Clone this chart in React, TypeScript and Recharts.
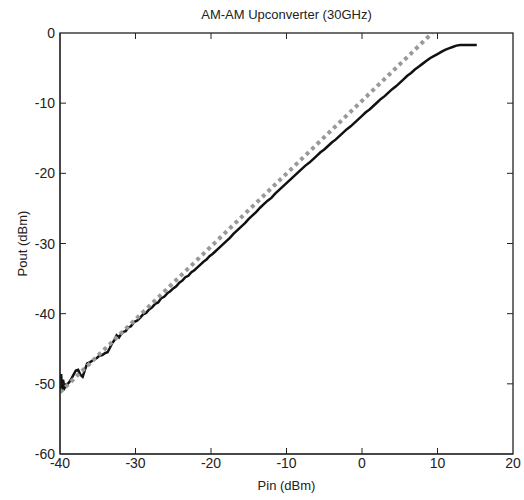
import { LineChart, Line, XAxis, YAxis, Label } from "recharts";

const FONT = '"Liberation Sans", Arial, Helvetica, sans-serif';
const INK = "#222";

const xTicks = [-40, -30, -20, -10, 0, 10, 20];
const yTicks = [-60, -50, -40, -30, -20, -10, 0];

// measured output power (solid black trace)
const pinMeasured = [
  -40.0, -39.95, -39.85, -39.75, -39.6, -39.4, -39.1, -38.8, -38.5, -38.2,
  -37.9, -37.6, -37.3, -37.0, -36.7, -36.4, -36.0, -35.6, -35.2, -34.8,
  -34.4, -34.0, -33.7, -33.4, -33.1, -32.8, -32.5, -32.2, -31.9, -31.6,
  -31.3, -31.0, -30.6, -30.2, -29.8, -29.4, -29.0, -28.6, -28.2, -27.8,
  -27.4, -27.0, -26.6, -26.2, -25.8, -25.4, -25.0, -24.6, -24.2, -23.8,
  -23.4, -23.0, -22.6, -22.2, -21.8, -21.4, -21.0, -20.6, -20.2, -19.8,
  -19.4, -19.0, -18.5, -18.0, -17.5, -17.0, -16.6, -16.0, -15.5, -15.0,
  -14.5, -14.0, -13.5, -13.0, -12.5, -12.0, -11.5, -11.0, -10.5, -10.0,
  -9.5, -9.0, -8.5, -8.0, -7.5, -7.0, -6.5, -6.0, -5.5, -5.0,
  -4.5, -4.0, -3.5, -3.0, -2.5, -2.0, -1.5, -1.0, -0.5, 0.0,
  0.5, 1.0, 1.5, 2.0, 2.5, 3.0, 3.5, 4.0, 4.5, 5.0,
  5.5, 6.0, 6.5, 7.0, 7.5, 8.0, 8.5, 9.0, 9.5, 10.0,
  10.5, 11.0, 11.5, 12.0, 12.5, 13.0, 14.0, 15.2,
];
const poutMeasured = [
  -49.2, -51.2, -48.6, -50.9, -49.4, -50.6, -50.1, -49.8, -49.3, -48.7,
  -48.1, -48.0, -48.7, -49.0, -48.0, -47.1, -46.9, -46.6, -46.4, -46.0,
  -45.9, -45.6, -45.5, -44.9, -44.2, -43.8, -43.1, -43.4, -42.9, -42.6,
  -42.5, -42.0, -41.8, -41.2, -41.0, -40.6, -40.1, -39.9, -39.4, -39.1,
  -38.6, -38.4, -37.8, -37.6, -37.1, -36.8, -36.4, -36.1, -35.6, -35.3,
  -34.8, -34.6, -34.1, -33.8, -33.4, -33.0, -32.6, -32.3, -31.8, -31.5,
  -31.1, -30.7, -30.2, -29.7, -29.2, -28.6, -28.2, -27.6, -27.1, -26.5,
  -26.0, -25.5, -24.9, -24.4, -23.9, -23.5, -22.9, -22.4, -21.9, -21.4,
  -20.9, -20.4, -19.9, -19.4, -18.9, -18.5, -18.0, -17.5, -17.0, -16.6,
  -16.1, -15.6, -15.2, -14.7, -14.2, -13.7, -13.3, -12.8, -12.3, -11.8,
  -11.3, -10.9, -10.4, -9.9, -9.4, -9.0, -8.5, -8.0, -7.6, -7.1,
  -6.6, -6.1, -5.7, -5.2, -4.8, -4.4, -4.0, -3.6, -3.3, -3.0,
  -2.7, -2.4, -2.2, -2.0, -1.8, -1.7, -1.7, -1.7,
];

// linear (ideal) gain reference (grey dotted)
const pinLinear = [-40, 9.3];
const poutLinear = [-51.2, 0];

const measured = pinMeasured.map((pin, i) => ({ pin, pout: poutMeasured[i] }));
const linear = pinLinear.map((pin, i) => ({ pin, pout: poutLinear[i] }));

const X_MIN = -40, X_MAX = 20, Y_MIN = -60, Y_MAX = 0;

// chart box; plot area follows from margins + axis sizes
const W = 524, H = 500;
const M = { top: 33, right: 11, bottom: 0, left: 0 };
const Y_AXIS_W = 60, X_AXIS_H = 46;
const PLOT = {
  left: M.left + Y_AXIS_W,
  top: M.top,
  right: W - M.right,
  bottom: H - M.bottom - X_AXIS_H,
};
const TICK = 6;

const BottomTick = ({ x, y, payload }: any) => (
  <text x={x} y={y + 14} textAnchor="middle" fontSize={14} fill={INK} fontFamily={FONT}>
    {payload.value}
  </text>
);
const LeftTick = ({ x, y, payload }: any) => (
  <text x={x - 5} y={y + 5} textAnchor="end" fontSize={14} fill={INK} fontFamily={FONT}>
    {payload.value}
  </text>
);

// matlab-style frame with inward ticks on all four sides
function Frame() {
  const px = (v: number) => PLOT.left + ((v - X_MIN) / (X_MAX - X_MIN)) * (PLOT.right - PLOT.left);
  const py = (v: number) => PLOT.bottom - ((v - Y_MIN) / (Y_MAX - Y_MIN)) * (PLOT.bottom - PLOT.top);
  return (
    <svg
      width={W}
      height={H}
      style={{ position: "absolute", left: 0, top: 0, pointerEvents: "none", zIndex: 2 }}
    >
      <rect
        x={PLOT.left}
        y={PLOT.top}
        width={PLOT.right - PLOT.left}
        height={PLOT.bottom - PLOT.top}
        fill="none"
        stroke={INK}
        strokeWidth={1.3}
      />
      {xTicks.slice(1, -1).map((v) => (
        <g key={`x${v}`}>
          <line x1={px(v)} x2={px(v)} y1={PLOT.bottom} y2={PLOT.bottom - TICK} stroke={INK} />
          <line x1={px(v)} x2={px(v)} y1={PLOT.top} y2={PLOT.top + TICK} stroke={INK} />
        </g>
      ))}
      {yTicks.slice(1, -1).map((v) => (
        <g key={`y${v}`}>
          <line x1={PLOT.left} x2={PLOT.left + TICK} y1={py(v)} y2={py(v)} stroke={INK} />
          <line x1={PLOT.right} x2={PLOT.right - TICK} y1={py(v)} y2={py(v)} stroke={INK} />
        </g>
      ))}
    </svg>
  );
}

export default function App() {
  return (
    <div style={{ position: "absolute", left: 0, top: 0, width: W, height: H, background: "#fff" }}>
      <LineChart width={W} height={H} margin={M}>
        <XAxis
          dataKey="pin"
          type="number"
          domain={[X_MIN, X_MAX]}
          ticks={xTicks}
          allowDataOverflow
          height={X_AXIS_H}
          tickSize={0}
          tickMargin={0}
          tickLine={false}
          tick={BottomTick}
          axisLine={{ stroke: INK }}
        >
          <Label
            value="Pin (dBm)"
            position="insideBottom"
            offset={10}
            style={{ fontSize: 13, fill: INK, fontFamily: FONT }}
          />
          <Label
            value="AM-AM Upconverter (30GHz)"
            position="insideTop"
            offset={-444}
            style={{ fontSize: 13, fill: INK, fontFamily: FONT }}
          />
        </XAxis>
        <YAxis
          dataKey="pout"
          type="number"
          domain={[Y_MIN, Y_MAX]}
          ticks={yTicks}
          allowDataOverflow
          width={Y_AXIS_W}
          tickSize={0}
          tickMargin={0}
          tickLine={false}
          tick={LeftTick}
          axisLine={{ stroke: INK }}
        >
          <Label
            content={({ viewBox }: any) => (
              <text
                x={viewBox.x + 27}
                y={viewBox.y + viewBox.height / 2}
                transform={`rotate(-90 ${viewBox.x + 27} ${viewBox.y + viewBox.height / 2})`}
                textAnchor="middle"
                fontSize={13}
                fill={INK}
                fontFamily={FONT}
              >
                Pout (dBm)
              </text>
            )}
          />
        </YAxis>
        <Line
          data={measured}
          dataKey="pout"
          type="linear"
          stroke="#111"
          strokeWidth={2.5}
          dot={false}
          isAnimationActive={false}
        />
        <Line
          data={linear}
          dataKey="pout"
          type="linear"
          stroke="#999"
          strokeWidth={4}
          strokeDasharray="3.8 3.8"
          strokeLinecap="butt"
          dot={false}
          isAnimationActive={false}
        />
      </LineChart>
      <Frame />
    </div>
  );
}
